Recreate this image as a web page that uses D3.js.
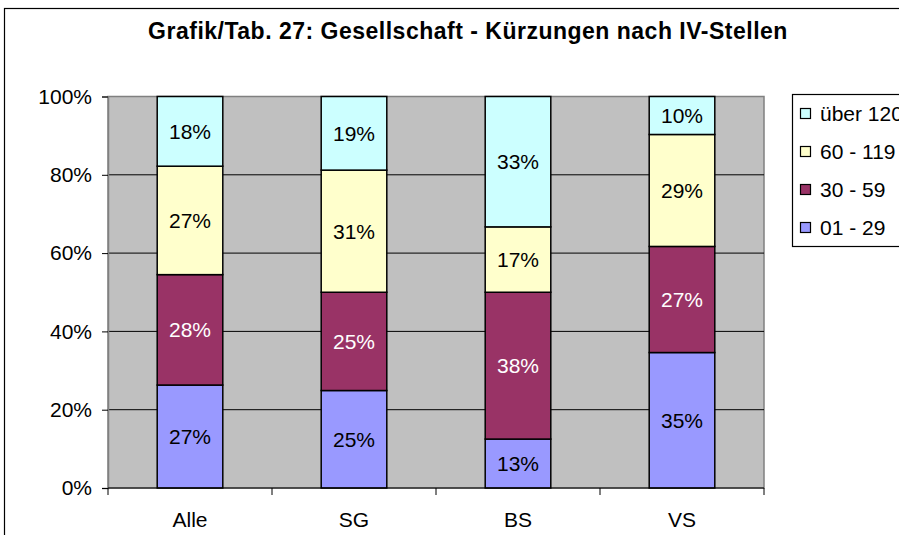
<!DOCTYPE html>
<html><head><meta charset="utf-8">
<script src="https://cdn.jsdelivr.net/npm/d3@7"></script>
<style>body{margin:0;background:#fff;}svg{display:block;font-family:"Liberation Sans",Arial,sans-serif;}</style>
</head><body>
<script>
const title = "Grafik/Tab. 27: Gesellschaft - Kürzungen nach IV-Stellen";
const categories = ["Alle", "SG", "BS", "VS"];
const seriesNames = ["01 - 29", "30 - 59", "60 - 119", "über 120"];
const s01_29 = [26.3, 24.9, 12.5, 34.6];
const s30_59 = [28.2, 25.1, 37.5, 27.1];
const s60_119 = [27.7, 31.2, 16.7, 28.6];
const s120 = [17.8, 18.8, 33.3, 9.7];
const labels01_29 = ["27%", "25%", "13%", "35%"];
const labels30_59 = ["28%", "25%", "38%", "27%"];
const labels60_119 = ["27%", "31%", "17%", "29%"];
const labels120 = ["18%", "19%", "33%", "10%"];
const colors = ["#9999FF", "#993366", "#FFFFCC", "#CCFFFF"];
const textColors = ["#000", "#fff", "#000", "#000"];
const yTicks = [0, 20, 40, 60, 80, 100];

const W = 899, H = 535;
const FS = 21;
const svg = d3.select("body").append("svg").attr("width", W).attr("height", H);

// outer chart border
svg.append("rect").attr("x", 4.5).attr("y", 8.5).attr("width", W + 20).attr("height", H + 20)
  .attr("fill", "#fff").attr("stroke", "#000").attr("stroke-width", 1.2);

svg.append("text").attr("x", 468).attr("y", 38.5).attr("text-anchor", "middle")
  .attr("font-weight", "bold").attr("font-size", 23).attr("letter-spacing", 0.5).text(title);

const plot = {left: 108, right: 764, top: 96.5, bottom: 488};
const x = d3.scaleBand().domain(categories).range([plot.left, plot.right]).paddingInner(0.6).paddingOuter(0.3);
const xb = d3.scaleBand().domain(categories).range([plot.left, plot.right]);
const y = d3.scaleLinear().domain([0, 100]).range([plot.bottom, plot.top]);

svg.append("rect").attr("x", plot.left).attr("y", plot.top)
  .attr("width", plot.right - plot.left).attr("height", plot.bottom - plot.top)
  .attr("fill", "#C0C0C0").attr("stroke", "#808080").attr("stroke-width", 1.5);

// gridlines
svg.append("g").selectAll("line").data(yTicks.filter(d => d > 0 && d < 100)).join("line")
  .attr("x1", plot.left).attr("x2", plot.right).attr("y1", d => y(d)).attr("y2", d => y(d))
  .attr("stroke", "#000").attr("stroke-width", 1);

const table = categories.map((c, i) => ({cat: c, a: s01_29[i], b: s30_59[i], c2: s60_119[i], d: s120[i]}));
const keys = ["a", "b", "c2", "d"];
const labelArrs = [labels01_29, labels30_59, labels60_119, labels120];
const stack = d3.stack().keys(keys)(table);

stack.forEach((layer, li) => {
  const g = svg.append("g");
  g.selectAll("rect").data(layer).join("rect")
    .attr("x", d => x(d.data.cat)).attr("width", x.bandwidth())
    .attr("y", d => y(d[1])).attr("height", d => y(d[0]) - y(d[1]))
    .attr("fill", colors[li]).attr("stroke", "#000").attr("stroke-width", 1.5);
  g.selectAll("text").data(layer).join("text")
    .attr("x", d => x(d.data.cat) + x.bandwidth() / 2)
    .attr("y", d => (y(d[0]) + y(d[1])) / 2)
    .attr("dy", "0.36em").attr("text-anchor", "middle").attr("font-size", FS)
    .attr("fill", textColors[li]).text((d, i) => labelArrs[li][i]);
});

// y axis
const yAxis = d3.axisLeft(y).tickValues(yTicks).tickFormat(d => d + "%").tickSize(6).tickPadding(10);
const gy = svg.append("g").attr("transform", `translate(${plot.left},0)`).call(yAxis);
gy.select(".domain").attr("stroke", "#808080").attr("stroke-width", 1.5);
gy.selectAll(".tick line").attr("stroke", "#000");
gy.selectAll("text").attr("font-size", FS).attr("font-family", "Liberation Sans, Arial, sans-serif").attr("fill", "#000");

// x axis
const gx = svg.append("g").attr("transform", `translate(0,${plot.bottom})`);
gx.append("line").attr("x1", plot.left).attr("x2", plot.right).attr("stroke", "#000").attr("stroke-width", 1.2);
const bounds = categories.map(c => xb(c)).concat([plot.right]);
gx.selectAll("line.t").data(bounds).join("line").attr("class", "t")
  .attr("x1", d => d).attr("x2", d => d).attr("y1", 0).attr("y2", 7).attr("stroke", "#000");
gx.selectAll("text").data(categories).join("text")
  .attr("x", d => xb(d) + xb.bandwidth() / 2).attr("y", 39).attr("text-anchor", "middle")
  .attr("font-size", FS).text(d => d);

// legend
const lg = svg.append("g");
lg.append("rect").attr("x", 792.5).attr("y", 94.5).attr("width", 130).attr("height", 152)
  .attr("fill", "#fff").attr("stroke", "#000").attr("stroke-width", 1.2);
const legendOrder = [3, 2, 1, 0];
const legendY = [113, 151, 189, 227];
legendOrder.forEach((si, k) => {
  lg.append("rect").attr("x", 800.5).attr("y", legendY[k] - 4.5).attr("width", 10).attr("height", 10)
    .attr("fill", colors[si]).attr("stroke", "#000").attr("stroke-width", 1.2);
  lg.append("text").attr("x", 820).attr("y", legendY[k]).attr("dy", "0.36em")
    .attr("font-size", FS).text(seriesNames[si]);
});
</script>
</body></html>
